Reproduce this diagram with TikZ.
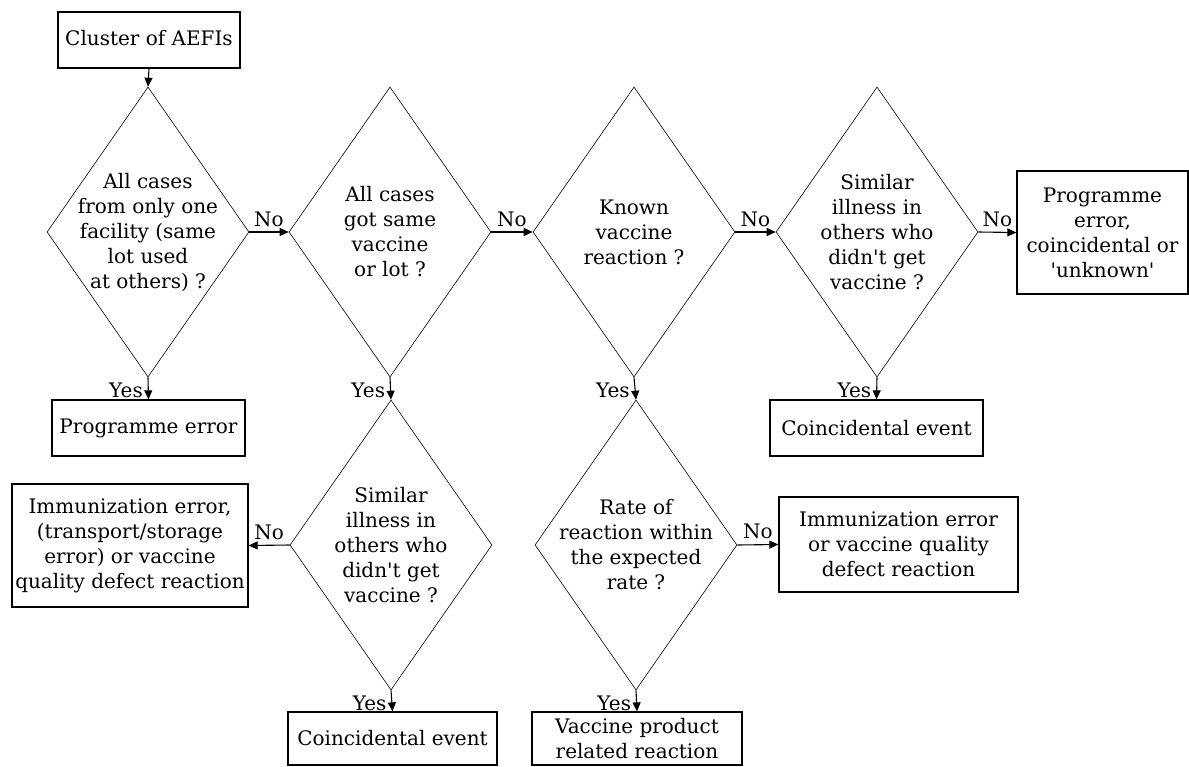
\documentclass[tikz,border=0pt]{standalone}
\usepackage{fontspec}
\setmainfont{DejaVu Serif}
\usetikzlibrary{shapes.geometric,arrows.meta}
\begin{document}
\begin{tikzpicture}[x=1pt,y=-1pt,
  every node/.style={font=\fontsize{20}{25}\selectfont},
  box/.style={draw, line width=1.3pt, align=center, inner sep=2pt},
  dia/.style={draw, diamond, line width=0.6pt, minimum width=202pt, minimum height=290pt, inner sep=0pt},
  dtext/.style={align=center, inner sep=0pt},
  arr/.style={line width=1.1pt, -{Triangle[length=9pt,width=8pt]}},
  nolbl/.style={above, inner sep=5pt},
  yeslbl/.style={left, pos=0.6, inner sep=5pt}
]
\useasboundingbox (0,0) rectangle (1189,766);

% boxes
\node[box, minimum width=182pt, minimum height=56pt] (start) at (149,40) {Cluster of AEFIs\vphantom{y}};
\node[box, minimum width=193pt, minimum height=56pt] (pe) at (148.5,428) {Programme error};
\node[box, minimum width=171pt, minimum height=123pt] (pecu) at (1102.5,232.5) {Programme\\error,\\coincidental or\\\textquotesingle unknown\textquotesingle};
\node[box, minimum width=213pt, minimum height=56pt] (ce1) at (876.5,428) {Coincidental event};
\node[box, minimum width=236pt, minimum height=123pt] (ie1) at (130,545.5) {Immunization error,\\(transport/storage\\error) or vaccine\\quality defect reaction};
\node[box, minimum width=239pt, minimum height=95pt] (ie2) at (898.5,544.5) {Immunization error\\or vaccine quality\\defect reaction};
\node[box, minimum width=209pt, minimum height=53pt] (ce2) at (392.5,738.5) {Coincidental event};
\node[box, minimum width=210pt, minimum height=53pt] (vp) at (637,738.5) {Vaccine product\\related reaction};

% diamonds
\node[dia] (d1) at (148,232) {};
\node[dtext] (d1t) at (148,232) {All cases\\from only one\\facility (same\\lot used\\at others) ?};
\node[dia] (d2) at (390,232) {};
\node[dtext] (d2t) at (390,232) {All cases\\got same\\vaccine\\or lot ?};
\node[dia] (d3) at (634,232) {};
\node[dtext] (d3t) at (634,232) {Known\\vaccine\\reaction ?};
\node[dia] (d4) at (877,232) {};
\node[dtext] (d4t) at (877,232) {Similar\\illness in\\others who\\didn\textquotesingle t get\\vaccine ?};
\node[dia] (d5) at (391,545) {};
\node[dtext] (d5t) at (391,545) {Similar\\illness in\\others who\\didn\textquotesingle t get\\vaccine ?};
\node[dia] (d6) at (636,545) {};
\node[dtext] (d6t) at (636,545) {Rate of\\reaction within\\the expected\\rate ?};

% connectors
\draw[arr] (start.south) -- (d1.north);
\draw[arr] (d1.east) -- node[nolbl] {No} (d2.west);
\draw[arr] (d2.east) -- node[nolbl] {No} (d3.west);
\draw[arr] (d3.east) -- node[nolbl] {No} (d4.west);
\draw[arr] (d4.east) -- node[nolbl] {No} (pecu.west);
\draw[arr] (d1.south) -- node[yeslbl] {Yes} (pe.north);
\draw[arr] (d2.south) -- node[yeslbl] {Yes} (d5.north);
\draw[arr] (d3.south) -- node[yeslbl] {Yes} (d6.north);
\draw[arr] (d4.south) -- node[yeslbl] {Yes} (ce1.north);
\draw[arr] (d5.west) -- node[nolbl] {No} (ie1.east);
\draw[arr] (d6.east) -- node[nolbl] {No} (ie2.west);
\draw[arr] (d5.south) -- node[yeslbl] {Yes} (ce2.north);
\draw[arr] (d6.south) -- node[yeslbl] {Yes} (vp.north);
\end{tikzpicture}
\end{document}
